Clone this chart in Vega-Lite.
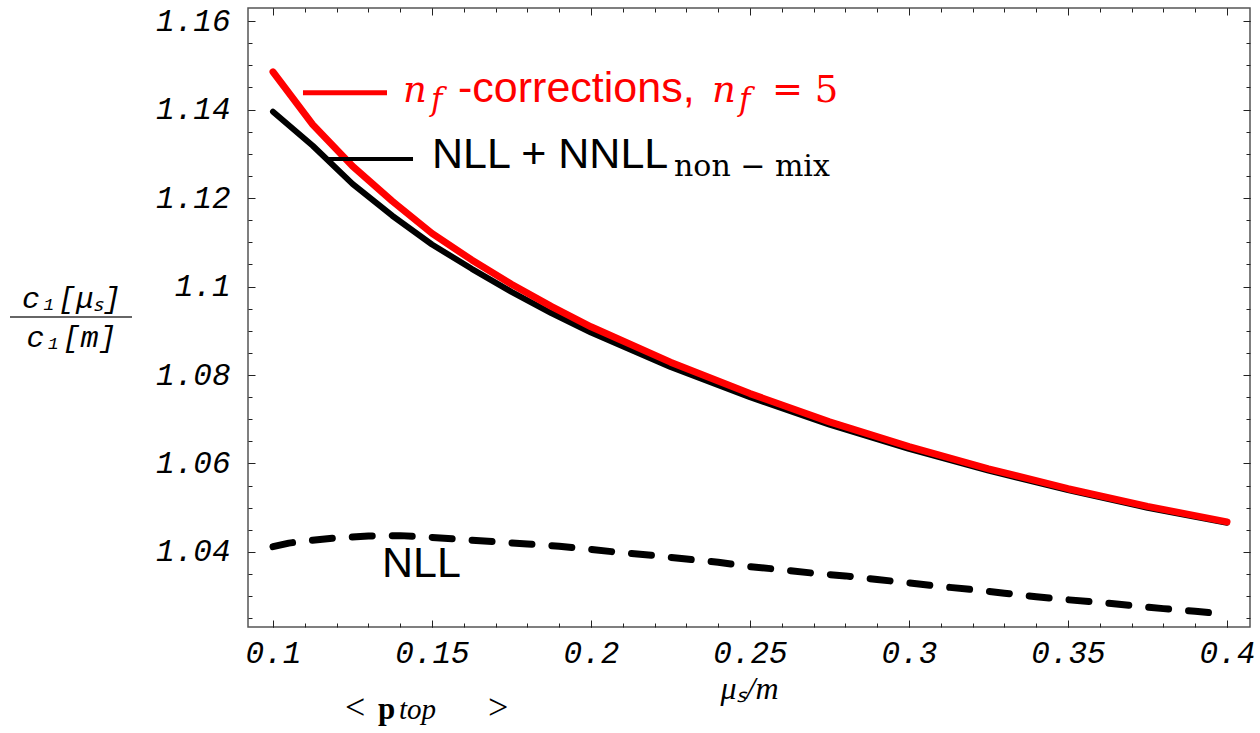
{
  "$schema": "https://vega.github.io/schema/vega-lite/v6.json",
  "width": 1002,
  "height": 619,
  "autosize": {"type": "none"},
  "padding": {"left": 248, "top": 8, "right": 10, "bottom": 106},
  "background": "white",
  "datasets": {
    "curves": [
      {"series": "nf", "x": 0.1, "y": 1.1485}, {"series": "nf", "x": 0.1125, "y": 1.1366}, {"series": "nf", "x": 0.125, "y": 1.1272}, {"series": "nf", "x": 0.1375, "y": 1.1193}, {"series": "nf", "x": 0.15, "y": 1.112}, {"series": "nf", "x": 0.1625, "y": 1.106}, {"series": "nf", "x": 0.175, "y": 1.1005}, {"series": "nf", "x": 0.1875, "y": 1.0955}, {"series": "nf", "x": 0.2, "y": 1.0909}, {"series": "nf", "x": 0.225, "y": 1.0829}, {"series": "nf", "x": 0.25, "y": 1.0758}, {"series": "nf", "x": 0.275, "y": 1.0694}, {"series": "nf", "x": 0.3, "y": 1.0638}, {"series": "nf", "x": 0.325, "y": 1.0588}, {"series": "nf", "x": 0.35, "y": 1.0543}, {"series": "nf", "x": 0.375, "y": 1.0503}, {"series": "nf", "x": 0.4, "y": 1.0468},
      {"series": "nnll", "x": 0.1, "y": 1.1395}, {"series": "nnll", "x": 0.1125, "y": 1.1318}, {"series": "nnll", "x": 0.125, "y": 1.1232}, {"series": "nnll", "x": 0.1375, "y": 1.116}, {"series": "nnll", "x": 0.15, "y": 1.1095}, {"series": "nnll", "x": 0.1625, "y": 1.104}, {"series": "nnll", "x": 0.175, "y": 1.0988}, {"series": "nnll", "x": 0.1875, "y": 1.094}, {"series": "nnll", "x": 0.2, "y": 1.0896}, {"series": "nnll", "x": 0.225, "y": 1.0818}, {"series": "nnll", "x": 0.25, "y": 1.075}, {"series": "nnll", "x": 0.275, "y": 1.0688}, {"series": "nnll", "x": 0.3, "y": 1.0633}, {"series": "nnll", "x": 0.325, "y": 1.0584}, {"series": "nnll", "x": 0.35, "y": 1.054}, {"series": "nnll", "x": 0.375, "y": 1.05}, {"series": "nnll", "x": 0.4, "y": 1.0466},
      {"series": "nll", "x": 0.1, "y": 1.0412}, {"series": "nll", "x": 0.105, "y": 1.042}, {"series": "nll", "x": 0.11, "y": 1.0425}, {"series": "nll", "x": 0.12, "y": 1.0432}, {"series": "nll", "x": 0.13, "y": 1.0436}, {"series": "nll", "x": 0.14, "y": 1.0437}, {"series": "nll", "x": 0.15, "y": 1.0433}, {"series": "nll", "x": 0.16, "y": 1.0428}, {"series": "nll", "x": 0.17, "y": 1.0423}, {"series": "nll", "x": 0.18, "y": 1.0418}, {"series": "nll", "x": 0.19, "y": 1.0413}, {"series": "nll", "x": 0.2, "y": 1.0406}, {"series": "nll", "x": 0.21, "y": 1.0398}, {"series": "nll", "x": 0.22, "y": 1.0392}, {"series": "nll", "x": 0.23, "y": 1.0384}, {"series": "nll", "x": 0.24, "y": 1.0377}, {"series": "nll", "x": 0.25, "y": 1.0367}, {"series": "nll", "x": 0.26, "y": 1.036}, {"series": "nll", "x": 0.27, "y": 1.0352}, {"series": "nll", "x": 0.28, "y": 1.0346}, {"series": "nll", "x": 0.29, "y": 1.0338}, {"series": "nll", "x": 0.3, "y": 1.033}, {"series": "nll", "x": 0.31, "y": 1.0322}, {"series": "nll", "x": 0.32, "y": 1.0315}, {"series": "nll", "x": 0.33, "y": 1.0307}, {"series": "nll", "x": 0.34, "y": 1.0299}, {"series": "nll", "x": 0.35, "y": 1.0292}, {"series": "nll", "x": 0.36, "y": 1.0286}, {"series": "nll", "x": 0.37, "y": 1.0279}, {"series": "nll", "x": 0.38, "y": 1.0272}, {"series": "nll", "x": 0.39, "y": 1.0266}, {"series": "nll", "x": 0.4, "y": 1.0259}
    ]
  },
  "resolve": {"axis": {"x": "independent", "y": "independent"}},
  "layer": [
    {
      "data": {"name": "curves"},
      "transform": [{"filter": "datum.series === 'nnll'"}],
      "mark": {"type": "line", "color": "#000000", "strokeWidth": 6, "strokeCap": "round", "strokeJoin": "round"},
      "encoding": {
        "x": {"field": "x", "type": "quantitative", "scale": {"domain": [0.09214, 0.40723], "nice": false, "zero": false},
          "axis": {"orient": "bottom", "values": [0.1, 0.15, 0.2, 0.25, 0.3, 0.35, 0.4], "format": "~g", "tickSize": -7, "labelPadding": 42, "labelBaseline": "alphabetic",
            "title": "μₛ/m", "titleFont": "Liberation Serif", "titleFontStyle": "italic", "titleFontSize": 32, "titleFontWeight": "normal", "titleColor": "#000", "titleBaseline": "alphabetic", "titleY": 71}},
        "y": {"field": "y", "type": "quantitative", "scale": {"domain": [1.02305, 1.16294], "nice": false, "zero": false},
          "axis": {"orient": "left", "values": [1.04, 1.06, 1.08, 1.1, 1.12, 1.14, 1.16], "format": "~g", "tickSize": -7, "labelPadding": 25,
            "title": ["c₁[μₛ]", "c₁[m]"], "titleAngle": 0, "titleAlign": "center", "titleBaseline": "alphabetic", "titleX": -177, "titleY": 299,
            "titleFont": "Liberation Mono", "titleFontStyle": "italic", "titleFontSize": 30, "titleFontWeight": "normal", "titleColor": "#000", "titleLineHeight": 39}}
      }
    },
    {
      "data": {"name": "curves"},
      "transform": [{"filter": "datum.series === 'nf'"}],
      "mark": {"type": "line", "color": "#ff0000", "strokeWidth": 7, "strokeCap": "round", "strokeJoin": "round"},
      "encoding": {
        "x": {"field": "x", "type": "quantitative", "scale": {"domain": [0.09214, 0.40723], "nice": false, "zero": false},
          "axis": {"orient": "bottom", "values": [0.1, 0.11, 0.12, 0.13, 0.14, 0.15, 0.16, 0.17, 0.18, 0.19, 0.2, 0.21, 0.22, 0.23, 0.24, 0.25, 0.26, 0.27, 0.28, 0.29, 0.3, 0.31, 0.32, 0.33, 0.34, 0.35, 0.36, 0.37, 0.38, 0.39, 0.4], "tickSize": -4, "labels": false, "title": null}},
        "y": {"field": "y", "type": "quantitative", "scale": {"domain": [1.02305, 1.16294], "nice": false, "zero": false},
          "axis": {"orient": "left", "values": [1.025, 1.03, 1.035, 1.04, 1.045, 1.05, 1.055, 1.06, 1.065, 1.07, 1.075, 1.08, 1.085, 1.09, 1.095, 1.1, 1.105, 1.11, 1.115, 1.12, 1.125, 1.13, 1.135, 1.14, 1.145, 1.15, 1.155, 1.16], "tickSize": -4, "labels": false, "title": null}}
      }
    },
    {
      "data": {"name": "curves"},
      "transform": [{"filter": "datum.series === 'nll'"}],
      "mark": {"type": "line", "color": "#000000", "strokeWidth": 7, "strokeCap": "round", "strokeJoin": "round", "strokeDash": [20, 20]},
      "encoding": {
        "x": {"field": "x", "type": "quantitative", "scale": {"domain": [0.09214, 0.40723], "nice": false, "zero": false},
          "axis": {"orient": "top", "values": [0.1, 0.15, 0.2, 0.25, 0.3, 0.35, 0.4], "tickSize": -7, "labels": false, "title": null}},
        "y": {"field": "y", "type": "quantitative", "scale": {"domain": [1.02305, 1.16294], "nice": false, "zero": false},
          "axis": {"orient": "right", "values": [1.04, 1.06, 1.08, 1.1, 1.12, 1.14, 1.16], "tickSize": -7, "labels": false, "title": null}}
      }
    },
    {
      "data": {"values": [{"x": 0.10943, "y": 1.1438}, {"x": 0.13585, "y": 1.1438}]},
      "mark": {"type": "line", "color": "#ff0000", "strokeWidth": 5},
      "encoding": {
        "x": {"field": "x", "type": "quantitative", "scale": {"domain": [0.09214, 0.40723], "nice": false, "zero": false},
          "axis": {"orient": "top", "values": [0.1, 0.11, 0.12, 0.13, 0.14, 0.15, 0.16, 0.17, 0.18, 0.19, 0.2, 0.21, 0.22, 0.23, 0.24, 0.25, 0.26, 0.27, 0.28, 0.29, 0.3, 0.31, 0.32, 0.33, 0.34, 0.35, 0.36, 0.37, 0.38, 0.39, 0.4], "tickSize": -4, "labels": false, "title": null}},
        "y": {"field": "y", "type": "quantitative", "scale": {"domain": [1.02305, 1.16294], "nice": false, "zero": false},
          "axis": {"orient": "right", "values": [1.025, 1.03, 1.035, 1.04, 1.045, 1.05, 1.055, 1.06, 1.065, 1.07, 1.075, 1.08, 1.085, 1.09, 1.095, 1.1, 1.105, 1.11, 1.115, 1.12, 1.125, 1.13, 1.135, 1.14, 1.145, 1.15, 1.155, 1.16], "tickSize": -4, "labels": false, "title": null}}
      }
    },
    {
      "data": {"values": [{"x": 0.11761, "y": 1.12881}, {"x": 0.14403, "y": 1.12881}]},
      "mark": {"type": "line", "color": "#000000", "strokeWidth": 4},
      "encoding": {
        "x": {"field": "x", "type": "quantitative", "scale": {"domain": [0.09214, 0.40723], "nice": false, "zero": false}, "axis": null},
        "y": {"field": "y", "type": "quantitative", "scale": {"domain": [1.02305, 1.16294], "nice": false, "zero": false}, "axis": null}
      }
    },
    {
      "data": {"values": [{"x": 0.0173, "x2": 0.05566, "y": 1.09311}]},
      "mark": {"type": "rule", "color": "#333333", "strokeWidth": 1.5},
      "encoding": {
        "x": {"field": "x", "type": "quantitative", "scale": {"domain": [0.09214, 0.40723], "nice": false, "zero": false}, "axis": null},
        "x2": {"field": "x2"},
        "y": {"field": "y", "type": "quantitative", "scale": {"domain": [1.02305, 1.16294], "nice": false, "zero": false}, "axis": null}
      }
    },
    {
      "data": {"values": [{"label": "-corrections,", "x": 0.15818, "y": 1.14169}]},
      "mark": {"type": "text", "align": "left", "baseline": "alphabetic", "font": "Liberation Sans", "fontSize": 43, "color": "#ff0000"},
      "encoding": {
        "x": {"field": "x", "type": "quantitative", "scale": {"domain": [0.09214, 0.40723], "nice": false, "zero": false}, "axis": null},
        "y": {"field": "y", "type": "quantitative", "scale": {"domain": [1.02305, 1.16294], "nice": false, "zero": false}, "axis": null},
        "text": {"field": "label"}
      }
    },
    {
      "data": {"values": [{"label": "NLL + NNLL", "x": 0.15, "y": 1.12678}, {"label": "NLL", "x": 0.13428, "y": 1.03435}]},
      "mark": {"type": "text", "align": "left", "baseline": "alphabetic", "font": "Liberation Sans", "fontSize": 43, "color": "#000000"},
      "encoding": {
        "x": {"field": "x", "type": "quantitative", "scale": {"domain": [0.09214, 0.40723], "nice": false, "zero": false}, "axis": null},
        "y": {"field": "y", "type": "quantitative", "scale": {"domain": [1.02305, 1.16294], "nice": false, "zero": false}, "axis": null},
        "text": {"field": "label"}
      }
    },
    {
      "data": {"values": [{"label": "n", "x": 0.14088, "y": 1.14169}, {"label": "n", "x": 0.23805, "y": 1.14169}]},
      "mark": {"type": "text", "align": "left", "baseline": "alphabetic", "font": "DejaVu Serif", "fontStyle": "italic", "fontSize": 37, "color": "#ff0000"},
      "encoding": {
        "x": {"field": "x", "type": "quantitative", "scale": {"domain": [0.09214, 0.40723], "nice": false, "zero": false}, "axis": null},
        "y": {"field": "y", "type": "quantitative", "scale": {"domain": [1.02305, 1.16294], "nice": false, "zero": false}, "axis": null},
        "text": {"field": "label"}
      }
    },
    {
      "data": {"values": [{"label": "f", "x": 0.14969, "y": 1.13989}, {"label": "f", "x": 0.24655, "y": 1.13989}]},
      "mark": {"type": "text", "align": "left", "baseline": "alphabetic", "font": "DejaVu Serif", "fontStyle": "italic", "fontSize": 31, "color": "#ff0000"},
      "encoding": {
        "x": {"field": "x", "type": "quantitative", "scale": {"domain": [0.09214, 0.40723], "nice": false, "zero": false}, "axis": null},
        "y": {"field": "y", "type": "quantitative", "scale": {"domain": [1.02305, 1.16294], "nice": false, "zero": false}, "axis": null},
        "text": {"field": "label"}
      }
    },
    {
      "data": {"values": [{"label": "= 5", "x": 0.25692, "y": 1.14169}]},
      "mark": {"type": "text", "align": "left", "baseline": "alphabetic", "font": "DejaVu Serif", "fontSize": 37, "color": "#ff0000"},
      "encoding": {
        "x": {"field": "x", "type": "quantitative", "scale": {"domain": [0.09214, 0.40723], "nice": false, "zero": false}, "axis": null},
        "y": {"field": "y", "type": "quantitative", "scale": {"domain": [1.02305, 1.16294], "nice": false, "zero": false}, "axis": null},
        "text": {"field": "label"}
      }
    },
    {
      "data": {"values": [{"label": "non − mix", "x": 0.2261, "y": 1.12497}]},
      "mark": {"type": "text", "align": "left", "baseline": "alphabetic", "font": "DejaVu Serif", "fontSize": 30, "color": "#000000"},
      "encoding": {
        "x": {"field": "x", "type": "quantitative", "scale": {"domain": [0.09214, 0.40723], "nice": false, "zero": false}, "axis": null},
        "y": {"field": "y", "type": "quantitative", "scale": {"domain": [1.02305, 1.16294], "nice": false, "zero": false}, "axis": null},
        "text": {"field": "label"}
      }
    },
    {
      "data": {"values": [{"label": "<", "x": 0.12264, "y": 1.00226}, {"label": ">", "x": 0.16761, "y": 1.00226}]},
      "mark": {"type": "text", "align": "left", "baseline": "alphabetic", "font": "Liberation Serif", "fontSize": 36, "color": "#000000"},
      "encoding": {
        "x": {"field": "x", "type": "quantitative", "scale": {"domain": [0.09214, 0.40723], "nice": false, "zero": false}, "axis": null},
        "y": {"field": "y", "type": "quantitative", "scale": {"domain": [1.02305, 1.16294], "nice": false, "zero": false}, "axis": null},
        "text": {"field": "label"}
      }
    },
    {
      "data": {"values": [{"label": "p", "x": 0.13302, "y": 1.00226}]},
      "mark": {"type": "text", "align": "left", "baseline": "alphabetic", "font": "Liberation Serif", "fontWeight": "bold", "fontSize": 31, "color": "#000000"},
      "encoding": {
        "x": {"field": "x", "type": "quantitative", "scale": {"domain": [0.09214, 0.40723], "nice": false, "zero": false}, "axis": null},
        "y": {"field": "y", "type": "quantitative", "scale": {"domain": [1.02305, 1.16294], "nice": false, "zero": false}, "axis": null},
        "text": {"field": "label"}
      }
    },
    {
      "data": {"values": [{"label": "top", "x": 0.13962, "y": 1.00226}]},
      "mark": {"type": "text", "align": "left", "baseline": "alphabetic", "font": "Liberation Serif", "fontStyle": "italic", "fontSize": 29, "color": "#000000"},
      "encoding": {
        "x": {"field": "x", "type": "quantitative", "scale": {"domain": [0.09214, 0.40723], "nice": false, "zero": false}, "axis": null},
        "y": {"field": "y", "type": "quantitative", "scale": {"domain": [1.02305, 1.16294], "nice": false, "zero": false}, "axis": null},
        "text": {"field": "label"}
      }
    }
  ],
  "config": {
    "view": {"stroke": "#555555", "strokeWidth": 1.5},
    "axis": {"grid": false, "domain": false, "tickColor": "#222222", "tickWidth": 1, "labelFont": "Liberation Mono", "labelFontStyle": "italic", "labelFontSize": 31, "labelColor": "#000000", "labelFlush": false, "labelOverlap": false}
  }
}
